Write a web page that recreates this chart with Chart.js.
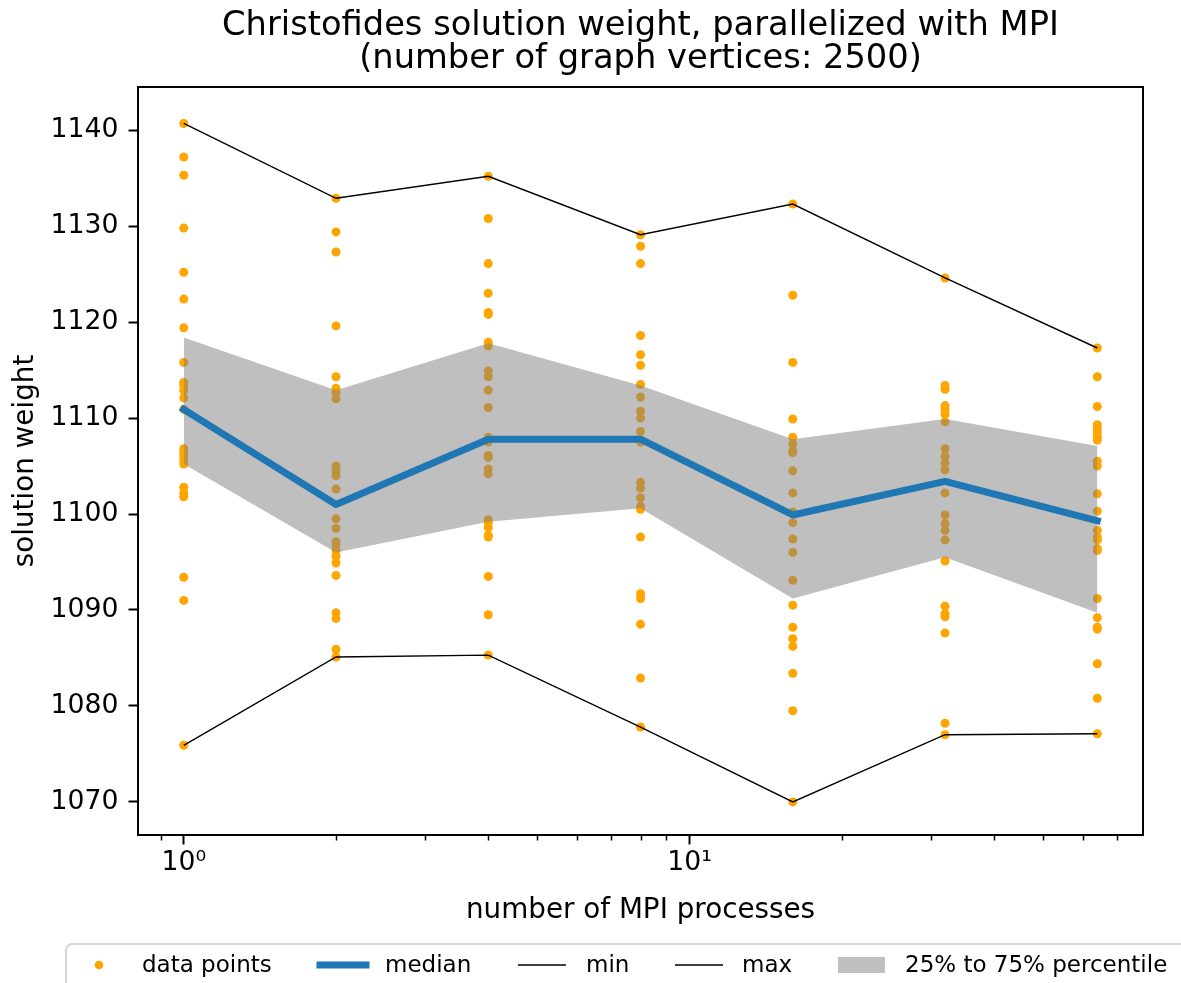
<!DOCTYPE html>
<html>
<head>
<meta charset="utf-8">
<script src="https://cdn.jsdelivr.net/npm/chart.js@4.4.1/dist/chart.umd.min.js"></script>
<style>
  html, body { margin: 0; padding: 0; background: #ffffff; }
  #wrap { width: 1181px; height: 983px; position: relative; }
</style>
</head>
<body>
<div id="wrap"><canvas id="c" width="1181" height="983"></canvas></div>
<script>
// ---- data ----
const procs = [1, 2, 4, 8, 16, 32, 64];

const pts1 = [1140.7, 1137.2, 1135.3, 1129.8, 1125.2, 1122.4, 1119.4, 1115.8, 1113.7, 1113.4, 1112.9, 1112.1, 1110.9, 1106.8, 1106.5, 1106.1, 1105.6, 1105.2, 1102.8, 1102.2, 1101.8, 1093.4, 1091.0, 1075.9];
const pts2 = [1132.9, 1129.4, 1127.3, 1119.6, 1114.3, 1113.1, 1112.6, 1112.0, 1105.0, 1104.4, 1104.0, 1102.6, 1099.5, 1098.5, 1097.1, 1096.8, 1096.2, 1095.6, 1094.9, 1093.6, 1089.7, 1089.1, 1085.9, 1085.1];
const pts4 = [1135.2, 1130.8, 1126.1, 1123.0, 1121.0, 1120.8, 1117.9, 1117.5, 1114.9, 1114.3, 1112.9, 1111.1, 1108.0, 1107.5, 1106.1, 1105.9, 1104.7, 1104.2, 1099.4, 1099.1, 1098.6, 1097.8, 1097.6, 1093.5, 1089.5, 1085.3];
const pts8 = [1129.1, 1127.9, 1126.1, 1118.6, 1116.6, 1115.5, 1113.5, 1112.2, 1110.7, 1110.0, 1108.6, 1107.5, 1103.3, 1102.7, 1101.7, 1100.8, 1100.5, 1097.6, 1091.7, 1091.2, 1088.5, 1082.9, 1077.8];
const pts16 = [1132.3, 1122.8, 1115.8, 1109.9, 1108.0, 1107.3, 1106.6, 1106.4, 1104.5, 1102.2, 1100.2, 1099.1, 1097.4, 1096.0, 1093.1, 1090.5, 1088.2, 1087.0, 1086.2, 1083.4, 1079.5, 1070.0];
const pts32 = [1124.6, 1113.4, 1113.0, 1111.3, 1110.9, 1110.4, 1109.6, 1106.8, 1106.0, 1105.3, 1104.6, 1102.2, 1099.9, 1099.0, 1098.3, 1097.3, 1095.1, 1090.4, 1089.6, 1089.3, 1087.6, 1078.2, 1077.0];
const pts64 = [1117.3, 1114.3, 1111.2, 1109.3, 1108.9, 1108.5, 1108.0, 1107.7, 1105.5, 1105.0, 1102.1, 1100.3, 1098.3, 1097.6, 1097.3, 1096.4, 1096.2, 1091.2, 1089.2, 1088.2, 1088.0, 1084.4, 1080.8, 1077.1];

const medians = [1110.9, 1101.0, 1107.8, 1107.8, 1099.9, 1103.4, 1099.3];
const mins    = [1075.9, 1085.1, 1085.3, 1077.8, 1070.0, 1077.0, 1077.1];
const maxs    = [1140.7, 1132.9, 1135.2, 1129.1, 1132.3, 1124.6, 1117.3];
const p25     = [1105.2, 1096.0, 1099.2, 1100.6, 1091.2, 1095.5, 1089.7];
const p75     = [1118.4, 1112.9, 1117.8, 1113.4, 1107.8, 1109.9, 1107.1];

const yTickValues = [1070, 1080, 1090, 1100, 1110, 1120, 1130, 1140];
const xMajorTicks = [1, 10];
const xMinorTicks = [0.9, 2, 3, 4, 5, 6, 7, 8, 9, 20, 30, 40, 50, 60, 70];
const xTickLabels = { 1: '10\u2070', 10: '10\u00B9' };

const titleLines = ['Christofides solution weight, parallelized with MPI', '(number of graph vertices: 2500)'];
const xTitle = 'number of MPI processes';
const yTitle = 'solution weight';
const legendLabels = ['data points', 'median', 'min', 'max', '25% to 75% percentile'];

// ---- build ----
const pointSets = [pts1, pts2, pts4, pts8, pts16, pts32, pts64];
const scatterData = [];
procs.forEach((p, i) => pointSets[i].forEach(v => scatterData.push({ x: p, y: v })));
const series = arr => procs.map((p, i) => ({ x: p, y: arr[i] }));

const FONT = '"DejaVu Sans", "Liberation Sans", sans-serif';
const ORANGE = '#ffa500';
const BLUE = '#1f77b4';
const BAND = 'rgba(128,128,128,0.5)';

const decor = {
  id: 'decor',
  beforeDraw(chart) {
    const ctx = chart.ctx;
    ctx.save();
    ctx.fillStyle = '#ffffff';
    ctx.fillRect(0, 0, chart.width, chart.height);
    ctx.restore();
  },
  afterDraw(chart) {
    const ctx = chart.ctx;
    const a = chart.chartArea;
    const xs = chart.scales.x;
    ctx.save();
    // frame
    ctx.strokeStyle = '#000';
    ctx.lineWidth = 2;
    ctx.strokeRect(a.left, a.top, a.right - a.left, a.bottom - a.top);
    // minor ticks
    ctx.lineWidth = 1.5;
    xMinorTicks.forEach(v => {
      const px = Math.round(xs.getPixelForValue(v)) + 0.5;
      ctx.beginPath();
      ctx.moveTo(px, a.bottom);
      ctx.lineTo(px, a.bottom + 5.5);
      ctx.stroke();
    });
    // title
    ctx.fillStyle = '#000';
    ctx.textAlign = 'center';
    ctx.textBaseline = 'alphabetic';
    ctx.font = '33.7px ' + FONT;
    const cx = (a.left + a.right) / 2;
    ctx.fillText(titleLines[0], cx, 35);
    ctx.fillText(titleLines[1], cx, 68);
    // axis titles
    ctx.font = '27.8px ' + FONT;
    ctx.fillText(xTitle, cx, 918);
    ctx.save();
    ctx.translate(33, (a.top + a.bottom) / 2);
    ctx.rotate(-Math.PI / 2);
    ctx.fillText(yTitle, 0, 0);
    ctx.restore();
    // legend
    ctx.beginPath();
    ctx.roundRect(66, 944, 1181 - 66 + 20, 80, 6);
    ctx.fillStyle = '#ffffff';
    ctx.fill();
    ctx.strokeStyle = '#d6d6d6';
    ctx.lineWidth = 2;
    ctx.stroke();
    const ly = 965;
    ctx.fillStyle = ORANGE;
    ctx.beginPath();
    ctx.arc(99, ly, 4.3, 0, Math.PI * 2);
    ctx.fill();
    ctx.strokeStyle = BLUE;
    ctx.lineWidth = 7;
    ctx.lineCap = 'square';
    ctx.beginPath();
    ctx.moveTo(320, ly); ctx.lineTo(366, ly);
    ctx.stroke();
    ctx.strokeStyle = '#000';
    ctx.lineWidth = 1.4;
    ctx.lineCap = 'butt';
    ctx.beginPath();
    ctx.moveTo(518, ly); ctx.lineTo(566, ly);
    ctx.moveTo(675, ly); ctx.lineTo(723, ly);
    ctx.stroke();
    ctx.fillStyle = '#bfbfbf';
    ctx.fillRect(838, 957, 47, 16);
    ctx.fillStyle = '#000';
    ctx.font = '23px ' + FONT;
    ctx.textAlign = 'left';
    const lx = [142, 385, 586, 742, 905];
    legendLabels.forEach((t, i) => ctx.fillText(t, lx[i], 972));
    ctx.restore();
  }
};

const tickFont = { family: FONT, size: 26.7 };

new Chart(document.getElementById('c'), {
  type: 'line',
  data: {
    datasets: [
      { label: legendLabels[0], data: scatterData, showLine: false, pointRadius: 4.5, pointBorderWidth: 0,
        pointBackgroundColor: ORANGE, pointBorderColor: ORANGE, order: 10 },
      { label: 'p25', data: series(p25), borderWidth: 0, borderColor: 'rgba(0,0,0,0)', pointRadius: 0, fill: false, order: 9 },
      { label: legendLabels[4], data: series(p75), borderWidth: 0, borderColor: 'rgba(0,0,0,0)', pointRadius: 0,
        backgroundColor: BAND, fill: { target: 1 }, order: 8 },
      { label: legendLabels[2], data: series(mins), borderColor: '#000', borderWidth: 1.4, pointRadius: 0, fill: false, order: 3 },
      { label: legendLabels[3], data: series(maxs), borderColor: '#000', borderWidth: 1.4, pointRadius: 0, fill: false, order: 2 },
      { label: legendLabels[1], data: series(medians), borderColor: BLUE, borderWidth: 7, borderCapStyle: 'square',
        borderJoinStyle: 'round', pointRadius: 0, fill: false, order: 1 }
    ]
  },
  options: {
    responsive: false,
    animation: false,
    events: [],
    layout: { padding: { top: 87, right: 38, bottom: 0, left: 0 } },
    elements: { line: { tension: 0 } },
    plugins: { legend: { display: false }, title: { display: false }, tooltip: { enabled: false } },
    scales: {
      x: {
        type: 'logarithmic',
        position: 'bottom',
        min: 0.812,
        max: 78.8,
        afterBuildTicks: s => { s.ticks = xMajorTicks.map(v => ({ value: v })); },
        afterFit: s => { s.height = 148; },
        ticks: {
          callback: v => xTickLabels[v] || '',
          font: tickFont, color: '#000', padding: 3, maxRotation: 0, autoSkip: false
        },
        grid: { display: true, drawOnChartArea: false, drawTicks: true, tickLength: 9.5, tickWidth: 2, tickColor: '#000' },
        border: { display: false }
      },
      y: {
        type: 'linear',
        position: 'left',
        min: 1066.55,
        max: 1144.5,
        afterBuildTicks: s => { s.ticks = yTickValues.map(v => ({ value: v })); },
        afterFit: s => { s.width = 138; },
        ticks: { callback: v => String(v), font: tickFont, color: '#000', padding: 10 },
        grid: { display: true, drawOnChartArea: false, drawTicks: true, tickLength: 9.5, tickWidth: 2, tickColor: '#000' },
        border: { display: false }
      }
    }
  },
  plugins: [decor]
});
</script>
</body>
</html>
